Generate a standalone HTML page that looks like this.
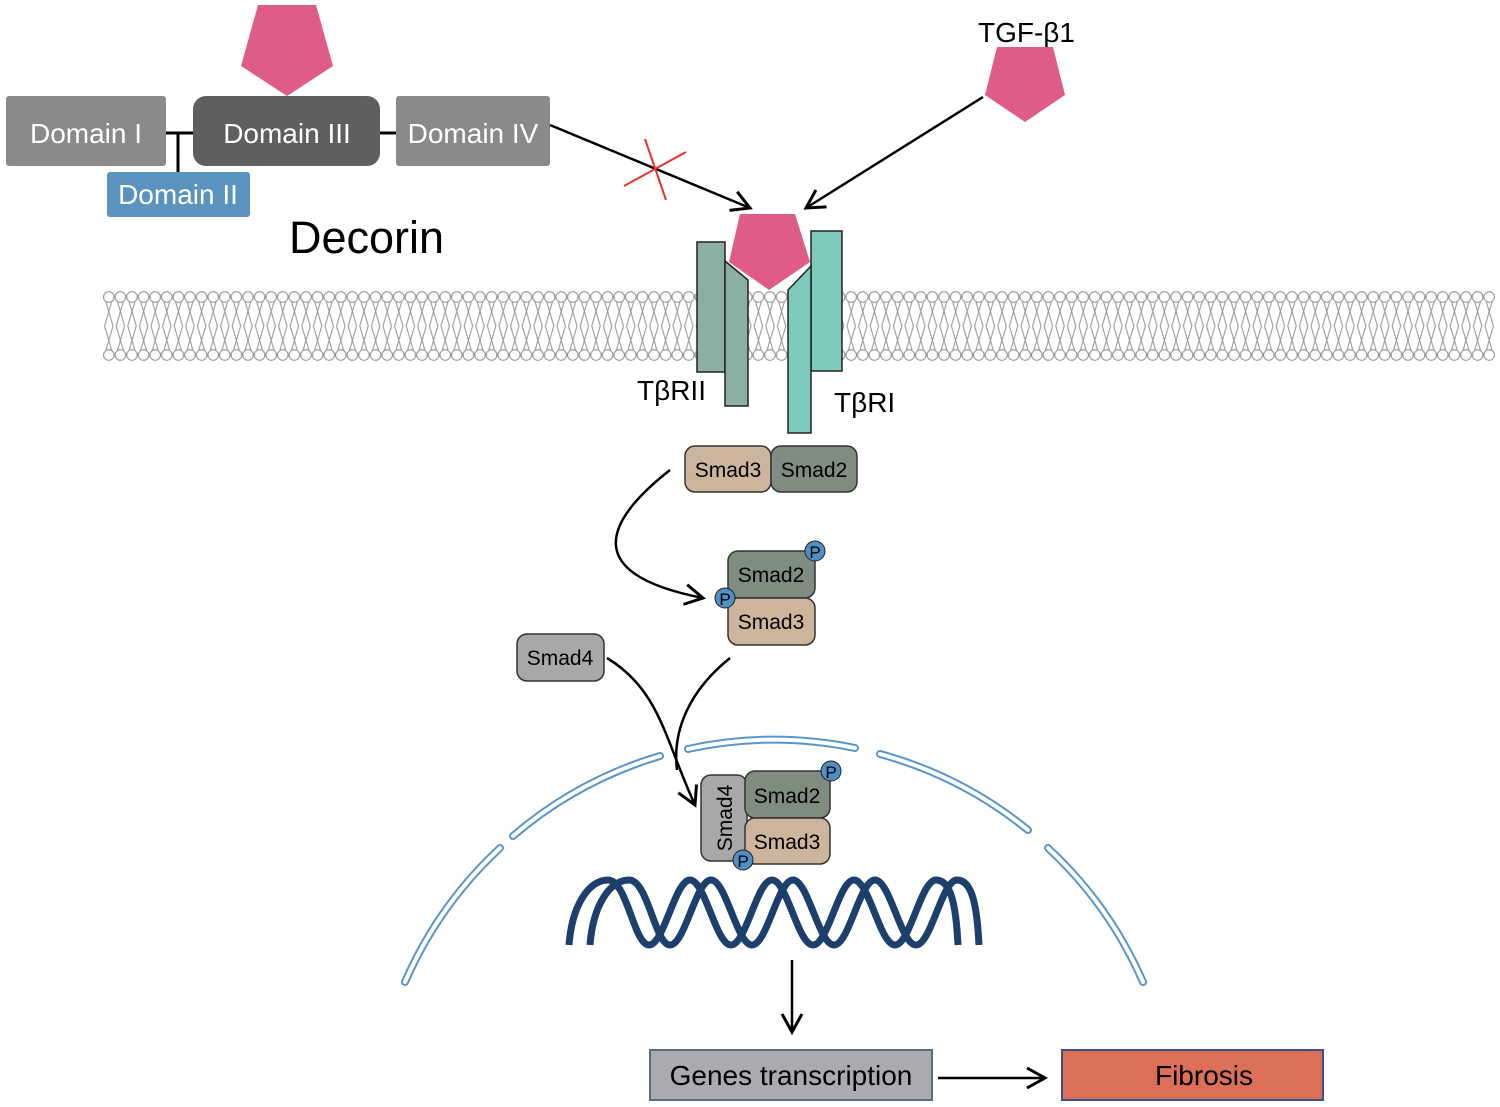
<!DOCTYPE html>
<html><head><meta charset="utf-8"><style>
html,body{margin:0;padding:0;background:#fff;}
svg{display:block;}
text{font-family:"Liberation Sans",Arial,sans-serif;}
</style></head><body>
<svg width="1500" height="1107" viewBox="0 0 1500 1107" xmlns="http://www.w3.org/2000/svg">
<defs>
<marker id="ah2" markerWidth="24" markerHeight="24" refX="20" refY="12" orient="auto" markerUnits="userSpaceOnUse" viewBox="0 0 24 24">
<polyline points="2,2 20,12 2,22" fill="none" stroke="#000" stroke-width="3"/>
</marker>
<pattern id="mem" x="103" y="285" width="11.6" height="82" patternUnits="userSpaceOnUse">
<circle cx="5.8" cy="12" r="5.3" fill="#fff" stroke="#999" stroke-width="1.2"/>
<circle cx="5.8" cy="70" r="5.3" fill="#fff" stroke="#999" stroke-width="1.2"/>
<polyline points="3,17 10,41 3,65" fill="none" stroke="#999" stroke-width="1.1"/>
<polyline points="8.6,17 1.6,41 8.6,65" fill="none" stroke="#999" stroke-width="1.1"/>
</pattern>
</defs>

<rect x="103" y="285" width="1392" height="82" fill="url(#mem)"/>

<line x1="166" y1="133" x2="193" y2="133" stroke="#000" stroke-width="3"/>
<line x1="178" y1="133" x2="178" y2="173" stroke="#000" stroke-width="3"/>
<line x1="380" y1="133" x2="396" y2="133" stroke="#000" stroke-width="3"/>
<rect x="6" y="96" width="160" height="70" rx="3" fill="#8a8a8a"/>
<rect x="193" y="96" width="187" height="70" rx="13" fill="#5f5f5f"/>
<rect x="396" y="96" width="154" height="70" rx="3" fill="#8a8a8a"/>
<rect x="107" y="172" width="143" height="45" rx="3" fill="#5a93bd"/>
<text x="86" y="143" font-size="28" fill="#fff" text-anchor="middle">Domain I</text>
<text x="287" y="143" font-size="28" fill="#fff" text-anchor="middle">Domain III</text>
<text x="473" y="143" font-size="28" fill="#fff" text-anchor="middle">Domain IV</text>
<text x="178" y="204" font-size="28" fill="#fff" text-anchor="middle">Domain II</text>
<polygon points="258,5 316,5 333,66 287,96 241,66" fill="#de5c87"/>
<text x="289" y="253" font-size="45" fill="#000">Decorin</text>

<text x="978" y="42" font-size="28" fill="#000">TGF-β1</text>
<polygon points="997,47 1053,47 1065,95 1025,122 985,95" fill="#de5c87"/>

<line x1="550" y1="125" x2="750" y2="208" stroke="#000" stroke-width="2.5" marker-end="url(#ah2)"/>
<line x1="624" y1="186" x2="686" y2="152" stroke="#e8332a" stroke-width="2"/>
<line x1="645" y1="139" x2="666" y2="200" stroke="#e8332a" stroke-width="2"/>
<line x1="983" y1="97" x2="806" y2="208" stroke="#000" stroke-width="2.5" marker-end="url(#ah2)"/>

<rect x="697" y="242" width="28" height="130" fill="#8cafa5" stroke="#222" stroke-width="1.5"/>
<polygon points="725,261 748,280 748,406 725,406" fill="#8cafa5" stroke="#222" stroke-width="1.5"/>
<rect x="811" y="231" width="31" height="140" fill="#7ecbbd" stroke="#222" stroke-width="1.5"/>
<polygon points="811,266 788,290 788,433 811,433" fill="#7ecbbd" stroke="#222" stroke-width="1.5"/>
<polygon points="740,214 795,214 810,262 769,290 729,262" fill="#de5c87"/>
<text x="637" y="400" font-size="28" fill="#000">TβRII</text>
<text x="834" y="412" font-size="28" fill="#000">TβRI</text>

<rect x="685" y="446" width="86" height="46" rx="10" fill="#cdb49c" stroke="#333" stroke-width="1.5"/>
<rect x="771" y="446" width="86" height="46" rx="10" fill="#7f8d80" stroke="#333" stroke-width="1.5"/>
<text x="728" y="477" font-size="21" text-anchor="middle">Smad3</text>
<text x="814" y="477" font-size="21" text-anchor="middle">Smad2</text>

<path d="M670,470 C600,525 585,575 703,598" fill="none" stroke="#000" stroke-width="2.5" marker-end="url(#ah2)"/>

<rect x="728" y="551" width="87" height="47" rx="10" fill="#7f8d80" stroke="#333" stroke-width="1.5"/>
<rect x="728" y="598" width="87" height="47" rx="10" fill="#cdb49c" stroke="#333" stroke-width="1.5"/>
<text x="771" y="582" font-size="21" text-anchor="middle">Smad2</text>
<text x="771" y="629" font-size="21" text-anchor="middle">Smad3</text>
<circle cx="815" cy="551" r="10" fill="#4e8fc4" stroke="#222" stroke-width="1"/>
<text x="815" y="558" font-size="17" text-anchor="middle">P</text>
<circle cx="725" cy="598" r="10" fill="#4e8fc4" stroke="#222" stroke-width="1"/>
<text x="725" y="605" font-size="17" text-anchor="middle">P</text>

<rect x="517" y="634" width="87" height="47" rx="10" fill="#a8a8a8" stroke="#333" stroke-width="1.5"/>
<text x="560" y="665" font-size="21" text-anchor="middle">Smad4</text>
<path d="M607,658 C660,690 665,740 695,805" fill="none" stroke="#000" stroke-width="2.5" marker-end="url(#ah2)"/>
<path d="M730,658 C690,690 672,730 677,770" fill="none" stroke="#000" stroke-width="2.5"/>

<g fill="none" stroke-linecap="round">
<g stroke="#5a95c7" stroke-width="8">
<path d="M405,982 A402,402 0 0 1 500,848"/>
<path d="M513,836 A402,402 0 0 1 660,756"/>
<path d="M688,749 A402,402 0 0 1 855,748"/>
<path d="M880,754 A402,402 0 0 1 1028,830"/>
<path d="M1048,848 A402,402 0 0 1 1143,982"/>
</g>
<g stroke="#fff" stroke-width="4">
<path d="M405,982 A402,402 0 0 1 500,848"/>
<path d="M513,836 A402,402 0 0 1 660,756"/>
<path d="M688,749 A402,402 0 0 1 855,748"/>
<path d="M880,754 A402,402 0 0 1 1028,830"/>
<path d="M1048,848 A402,402 0 0 1 1143,982"/>
</g>
</g>

<rect x="701" y="775" width="46" height="86" rx="10" fill="#a8a8a8" stroke="#333" stroke-width="1.5"/>
<text transform="translate(732,818) rotate(-90)" font-size="21" text-anchor="middle">Smad4</text>
<rect x="745" y="771" width="85" height="47" rx="10" fill="#7f8d80" stroke="#333" stroke-width="1.5"/>
<rect x="745" y="818" width="85" height="46" rx="10" fill="#cdb49c" stroke="#333" stroke-width="1.5"/>
<text x="787" y="803" font-size="21" text-anchor="middle">Smad2</text>
<text x="787" y="849" font-size="21" text-anchor="middle">Smad3</text>
<circle cx="831" cy="771" r="10" fill="#4e8fc4" stroke="#222" stroke-width="1"/>
<text x="831" y="778" font-size="17" text-anchor="middle">P</text>
<circle cx="743" cy="860" r="10" fill="#4e8fc4" stroke="#222" stroke-width="1"/>
<text x="743" y="867" font-size="17" text-anchor="middle">P</text>

<g fill="none" stroke="#1d3f6b" stroke-width="7">
<path d="M569,945 c3,-40 20,-65 39,-65 s26,65 41,65 s26,-65 41,-65 s26,65 41,65 s26,-65 41,-65 s26,65 41,65 s26,-65 41,-65 s26,65 41,65 s26,-65 41,-65 s20,25 22,65"/>
<path d="M590,945 c3,-40 20,-65 39,-65 s26,65 41,65 s26,-65 41,-65 s26,65 41,65 s26,-65 41,-65 s26,65 41,65 s26,-65 41,-65 s26,65 41,65 s26,-65 41,-65 s20,25 22,65"/>
</g>

<line x1="792" y1="960" x2="792" y2="1032" stroke="#000" stroke-width="2.5" marker-end="url(#ah2)"/>
<rect x="650" y="1050" width="282" height="50" fill="#a9abae" stroke="#5b6b80" stroke-width="2"/>
<text x="791" y="1085" font-size="28" text-anchor="middle">Genes transcription</text>
<line x1="938" y1="1078" x2="1045" y2="1078" stroke="#000" stroke-width="2.5" marker-end="url(#ah2)"/>
<rect x="1062" y="1050" width="261" height="50" fill="#dc6f57" stroke="#3d5080" stroke-width="2"/>
<text x="1204" y="1085" font-size="28" text-anchor="middle">Fibrosis</text>
</svg>
</body></html>
